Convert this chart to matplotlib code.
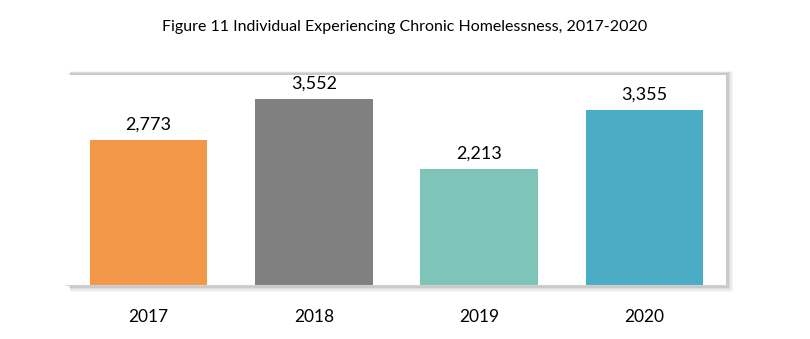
import matplotlib.pyplot as plt
from matplotlib.patches import Rectangle

years = ['2017', '2018', '2019', '2020']
counts = [2773, 3552, 2213, 3355]
colors = ['#F39848', '#808080', '#7FC4B8', '#4BACC6']

W, H = 810, 339
fig = plt.figure(figsize=(W / 100, H / 100), dpi=100)
plt.rcParams['font.family'] = ['Lato', 'DejaVu Sans']

def px(x0, y0, x1, y1):
    # pixel box (top-left origin) -> figure fraction rect
    return (x0 / W, 1 - y1 / H, (x1 - x0) / W, (y1 - y0) / H)

# chart box with a soft shadow on top / right / bottom
for i, a in enumerate([0.05, 0.07, 0.10, 0.14]):
    d = 4 - i
    x, y, w, h = px(69 + d * 0.3, 73 - d * 0.4, 727 + d * 1.5, 286 + d * 1.5)
    fig.patches.append(Rectangle((x, y), w, h, transform=fig.transFigure,
                                 facecolor='#606060', alpha=a, edgecolor='none', zorder=0))
x, y, w, h = px(67, 75, 726, 285)
fig.patches.append(Rectangle((x, y), w, h, transform=fig.transFigure,
                             facecolor='white', edgecolor='none', zorder=0.5))

ax = fig.add_axes(px(66, 74, 727, 285))
ax.set_zorder(2)
ax.patch.set_alpha(0)
ax.bar(range(len(years)), counts, width=0.71, color=colors, zorder=2)
for i, v in enumerate(counts):
    ax.text(i, v + 140, f'{v:,}', ha='center', va='bottom', fontsize=13, clip_on=False)

ax.set_xlim(-0.5, 3.5)
ax.set_ylim(0, 4035)
ax.set_xticks(range(len(years)))
ax.set_xticklabels(years, fontsize=12.5)
ax.tick_params(axis='x', length=0, pad=17)
ax.set_yticks([])
for s in ['top', 'right', 'left']:
    ax.spines[s].set_visible(False)
ax.spines['bottom'].set_color('#d0d0d0')

fig.text(0.5, 1 - 27 / H, 'Figure 11 Individual Experiencing Chronic Homelessness, 2017-2020',
         ha='center', va='center', fontsize=11.5)

fig.savefig('out.png', dpi=100)
